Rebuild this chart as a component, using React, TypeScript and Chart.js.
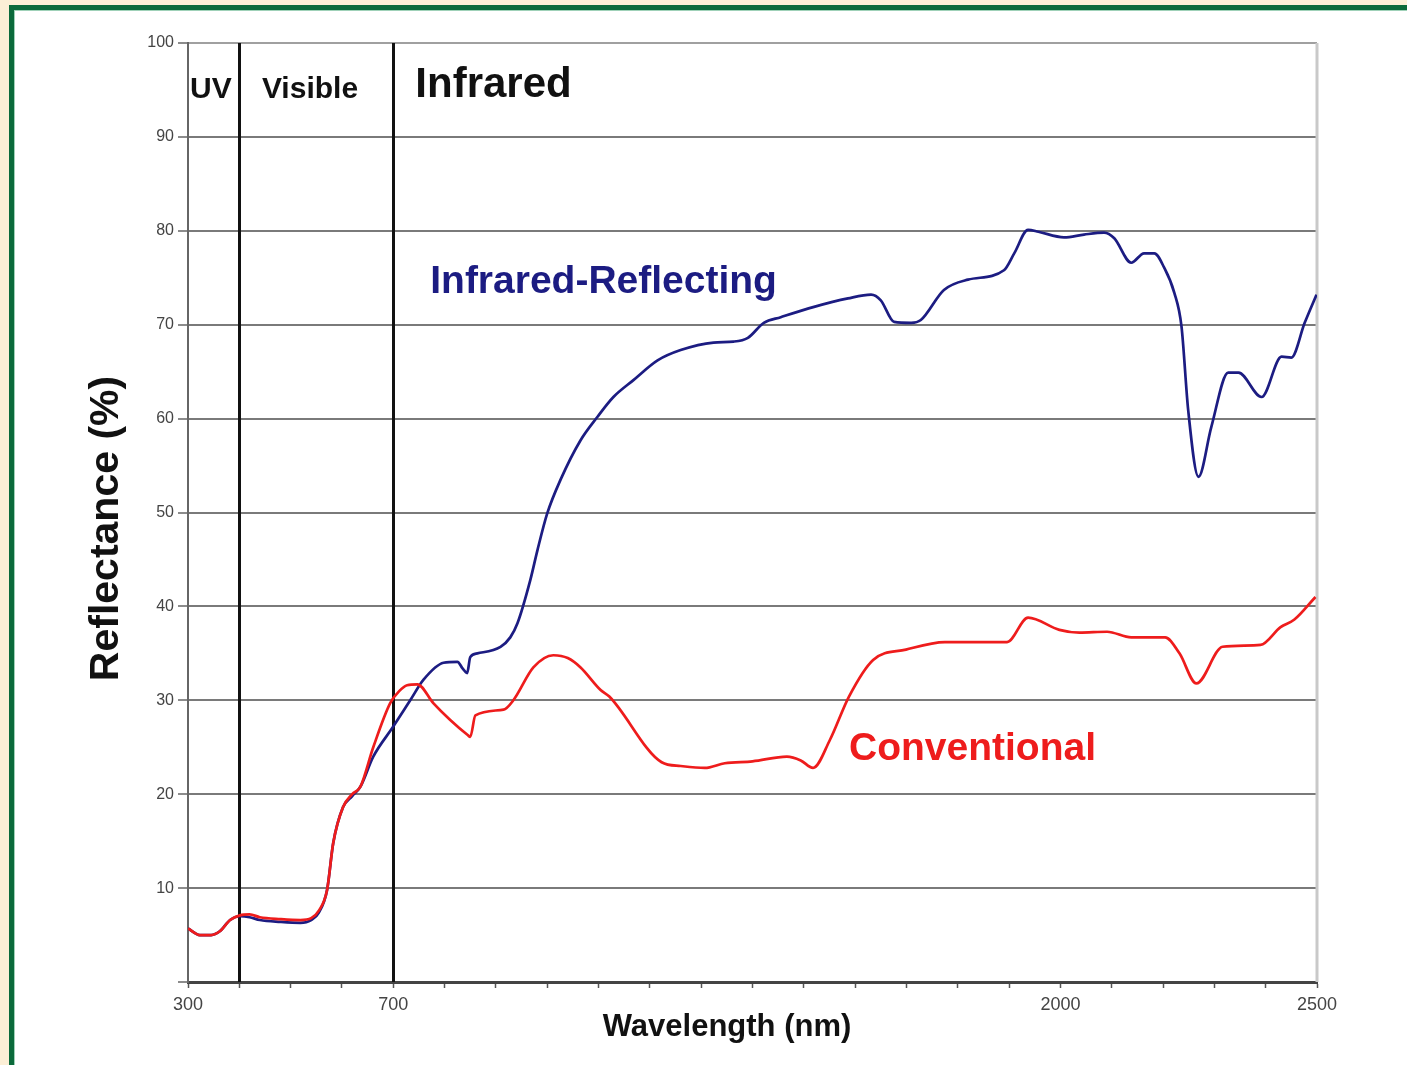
import React, { useEffect, useRef } from 'react';
import { Chart, registerables } from 'chart.js';

Chart.register(...registerables);

// ---- Data ----
const irWavelengths = [
  300, 323, 345, 362, 382, 401, 420, 440, 480, 519, 540, 555, 571, 583, 602, 620, 636, 661, 700, 733,
  759, 798, 825, 835, 844, 850, 864, 909, 928, 942, 967, 981, 1000, 1026, 1065, 1098, 1129, 1168, 1215, 1260,
  1324, 1363, 1391, 1422, 1455, 1520, 1586, 1631, 1650, 1676, 1709, 1728, 1773, 1820, 1890, 1910, 1937, 1957, 2007, 2046,
  2085, 2105, 2138, 2163, 2183, 2202, 2222, 2236, 2249, 2269, 2294, 2327, 2347, 2392, 2431, 2450, 2476, 2499,
];
const irReflectance = [
  5.7, 5.0, 5.0, 5.4, 6.6, 7.0, 6.9, 6.6, 6.4, 6.3, 6.6, 7.4, 9.8, 14.8, 18.6, 19.8, 20.8, 24.0, 27.2, 30.0,
  32.2, 34.0, 34.1, 33.4, 32.9, 34.6, 35.0, 35.7, 36.7, 38.2, 42.8, 46.0, 49.9, 53.5, 57.7, 60.2, 62.3, 64.1, 66.2, 67.3,
  68.1, 68.2, 68.6, 70.2, 70.8, 71.9, 72.8, 73.2, 72.6, 70.3, 70.2, 70.5, 73.7, 74.8, 75.8, 77.6, 80.1, 79.9, 79.3, 79.6,
  79.8, 79.2, 76.6, 77.6, 77.6, 76.1, 73.4, 69.8, 60.9, 53.8, 59.1, 64.9, 64.9, 62.3, 66.6, 66.5, 70.2, 73.2,
];

const convWavelengths = [
  300, 323, 345, 362, 382, 401, 420, 440, 480, 519, 540, 555, 571, 583, 602, 620, 636, 661, 694, 712,
  727, 747, 778, 811, 845, 850, 860, 915, 934, 973, 1012, 1040, 1065, 1104, 1121, 1223, 1260, 1307, 1346, 1400,
  1467, 1494, 1518, 1551, 1588, 1635, 1699, 1775, 1896, 1937, 1998, 2037, 2091, 2138, 2204, 2232, 2265, 2316, 2390, 2429,
  2456, 2497,
];
const convReflectance = [
  5.7, 5.0, 5.0, 5.4, 6.6, 7.1, 7.2, 6.9, 6.7, 6.6, 6.8, 7.6, 9.8, 14.8, 18.6, 20.0, 20.8, 25.0, 29.7, 31.0,
  31.6, 31.7, 29.7, 27.9, 26.3, 26.1, 28.4, 29.0, 30.0, 33.5, 34.8, 34.5, 33.5, 31.1, 30.4, 23.4, 23.0, 22.8, 23.3, 23.5,
  24.0, 23.6, 22.8, 25.8, 30.4, 34.3, 35.4, 36.2, 36.2, 38.8, 37.5, 37.2, 37.3, 36.7, 36.7, 35.0, 31.8, 35.7, 35.9, 37.8,
  38.6, 41.0,
];

const seriesNames = ['Infrared-Reflecting', 'Conventional'];
const xLabelValues = [300, 700, 2000, 2500];
const regionBounds = [400, 700];
const regionNames = ['UV', 'Visible', 'Infrared'];

const BLUE = '#1c1c82';
const RED = '#ee1c1c';
const SANS = "'Liberation Sans', Arial, Helvetica, sans-serif";
const NARROW = "'Liberation Sans Narrow', 'Liberation Sans', Arial, sans-serif";

// text annotations anchored in data coordinates (nm, %)
const annotations = [
  { text: regionNames[0], nm: 304, val: 94.1, font: `bold 30px ${SANS}`, color: '#111' },
  { text: regionNames[1], nm: 444, val: 94.1, font: `bold 30px ${SANS}`, color: '#111' },
  { text: regionNames[2], nm: 743, val: 94.2, font: `bold 42px ${SANS}`, color: '#111' },
  { text: seriesNames[0], nm: 772, val: 73.4, font: `bold 39px ${SANS}`, color: BLUE },
  { text: seriesNames[1], nm: 1588, val: 23.6, font: `bold 39px ${SANS}`, color: RED },
];

const overlayPlugin = {
  id: 'overlay',
  beforeDatasetsDraw(chart: any) {
    const { ctx, chartArea, scales } = chart;
    const x = scales.x;
    ctx.save();
    // right border
    ctx.strokeStyle = '#c9c9c9';
    ctx.lineWidth = 3;
    ctx.beginPath();
    ctx.moveTo(chartArea.right, chartArea.top);
    ctx.lineTo(chartArea.right, chartArea.bottom);
    ctx.stroke();
    // region boundaries
    ctx.strokeStyle = '#111';
    ctx.lineWidth = 3;
    regionBounds.forEach((b) => {
      const px = Math.round(x.getPixelForValue(b)) + 0.5;
      ctx.beginPath();
      ctx.moveTo(px, chartArea.top);
      ctx.lineTo(px, chartArea.bottom);
      ctx.stroke();
    });
    ctx.restore();
  },
  afterDraw(chart: any) {
    const { ctx, chartArea, scales } = chart;
    const x = scales.x;
    const y = scales.y;
    ctx.save();
    ctx.textAlign = 'left';
    ctx.textBaseline = 'alphabetic';
    annotations.forEach((a) => {
      ctx.font = a.font;
      ctx.fillStyle = a.color;
      ctx.fillText(a.text, x.getPixelForValue(a.nm), y.getPixelForValue(a.val));
    });
    // axis titles
    ctx.fillStyle = '#111';
    ctx.font = `bold 31px ${SANS}`;
    ctx.textAlign = 'center';
    ctx.fillText('Wavelength (nm)', chartArea.left + 539, chartArea.bottom + 54);
    ctx.save();
    ctx.translate(chartArea.left - 81, (chartArea.top + chartArea.bottom) / 2 + 16);
    ctx.rotate(-Math.PI / 2);
    ctx.font = `bold 41px ${SANS}`;
    ctx.textBaseline = 'middle';
    ctx.fillText('Reflectance (%)', 0, 0);
    ctx.restore();
    ctx.restore();
  },
};

export default function App() {
  const canvasRef = useRef<HTMLCanvasElement | null>(null);

  useEffect(() => {
    document.body.style.margin = '0';
    const canvas = canvasRef.current;
    if (!canvas) return;
    const chart = new Chart(canvas, {
      type: 'line',
      data: {
        datasets: [
          {
            label: seriesNames[1],
            data: convWavelengths.map((w, i) => ({ x: w, y: convReflectance[i] })),
            borderColor: RED,
            borderWidth: 2.7,
            pointRadius: 0,
            cubicInterpolationMode: 'monotone',
            fill: false,
          },
          {
            label: seriesNames[0],
            data: irWavelengths.map((w, i) => ({ x: w, y: irReflectance[i] })),
            borderColor: BLUE,
            borderWidth: 2.7,
            pointRadius: 0,
            cubicInterpolationMode: 'monotone',
            fill: false,
          },
        ],
      },
      options: {
        responsive: false,
        animation: false,
        devicePixelRatio: 1,
        layout: { padding: { left: 0, top: 43, right: 90, bottom: 0 } },
        plugins: {
          legend: { display: false },
          tooltip: { enabled: false },
          title: { display: false },
        },
        scales: {
          x: {
            type: 'linear',
            min: 300,
            max: 2500,
            afterFit: (s: any) => {
              s.height = 83;
            },
            ticks: {
              stepSize: 100,
              autoSkip: false,
              maxRotation: 0,
              padding: 6,
              color: '#444',
              font: { family: NARROW, size: 18 },
              callback: (v: any) => (xLabelValues.includes(Number(v)) ? String(v) : ''),
            },
            grid: {
              drawOnChartArea: false,
              drawTicks: true,
              tickLength: 6,
              tickColor: '#555',
              tickWidth: 1.5,
            },
            border: { display: true, color: '#444', width: 3 },
          },
          y: {
            min: 0,
            max: 100,
            afterFit: (s: any) => {
              s.width = 188;
            },
            ticks: {
              stepSize: 10,
              padding: 4,
              color: '#444',
              font: { family: NARROW, size: 16 },
              callback: (v: any) => (Number(v) === 0 ? '' : String(v)),
            },
            grid: {
              color: (c: any) =>
                c.tick && c.tick.value === 0 ? 'rgba(0,0,0,0)' : c.tick && c.tick.value === 100 ? '#a0a0a0' : '#7a7a7a',
              lineWidth: 2,
              drawTicks: true,
              tickLength: 10,
              tickColor: '#666',
              tickWidth: 1.5,
            },
            border: { display: true, color: '#666', width: 2 },
          },
        },
      } as any,
      plugins: [overlayPlugin],
    });
    return () => chart.destroy();
  }, []);

  return (
    <div style={{ position: 'relative', width: 1407, height: 1065, background: '#fcefd6', overflow: 'hidden' }}>
      <div
        style={{
          position: 'absolute',
          left: 9,
          top: 5,
          right: 0,
          bottom: 0,
          background: '#ffffff',
          borderTop: '5px solid #0b6a3b',
          borderLeft: '5px solid #0b6a3b',
          boxShadow: 'inset 1px 1px 0 #9fd1b8',
        }}
      />
      <canvas ref={canvasRef} width={1407} height={1065} style={{ position: 'absolute', left: 0, top: 0 }} />
    </div>
  );
}
